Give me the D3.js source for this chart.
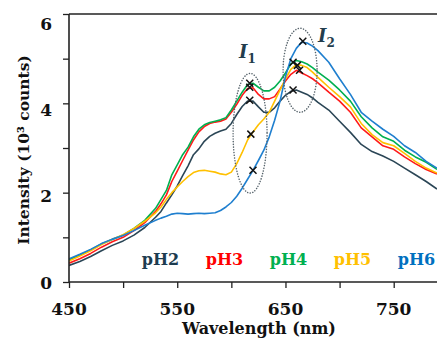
<!DOCTYPE html>
<html><head><meta charset="utf-8">
<script src="https://cdn.jsdelivr.net/npm/d3@7/dist/d3.min.js"></script>
<style>
html,body{margin:0;padding:0;background:#fff;}
svg{display:block;}
text{font-family:"DejaVu Serif",serif;font-weight:bold;}
</style></head>
<body>
<svg id="chart" width="437" height="339"></svg>
<script>
// ---- data ----
const wavelengths = [450,460,470,480,490,500,510,520,530,535,540,545,550,555,560,565,570,575,580,585,590,595,600,605,610,615,620,625,630,635,640,645,650,655,660,665,670,675,680,690,700,710,720,730,740,750,760,770,780,790];
const pH2 = [0.37,0.46,0.57,0.70,0.82,0.92,1.05,1.22,1.45,1.58,1.77,1.95,2.15,2.38,2.60,2.85,2.98,3.15,3.26,3.33,3.38,3.42,3.55,3.75,3.93,4.05,4.05,3.92,3.80,3.80,3.90,4.05,4.18,4.27,4.30,4.25,4.20,4.12,4.02,3.85,3.60,3.35,3.08,2.92,2.82,2.70,2.55,2.40,2.25,2.08];
const pH3 = [0.42,0.52,0.64,0.78,0.90,1.00,1.15,1.33,1.58,1.75,1.95,2.25,2.48,2.72,2.95,3.18,3.36,3.48,3.55,3.58,3.60,3.65,3.80,3.98,4.18,4.33,4.35,4.20,4.10,4.10,4.15,4.32,4.50,4.65,4.74,4.68,4.62,4.55,4.46,4.25,4.05,3.80,3.45,3.25,3.05,2.97,2.80,2.65,2.52,2.42];
const pH4 = [0.50,0.60,0.72,0.85,0.95,1.05,1.20,1.38,1.65,1.85,2.05,2.40,2.62,2.85,3.02,3.25,3.42,3.52,3.57,3.60,3.63,3.68,3.85,4.05,4.25,4.42,4.45,4.36,4.28,4.28,4.36,4.50,4.68,4.88,4.96,4.93,4.88,4.80,4.70,4.52,4.30,4.05,3.70,3.45,3.25,3.15,2.95,2.80,2.68,2.52];
const pH5 = [0.47,0.58,0.70,0.84,0.96,1.06,1.20,1.36,1.55,1.68,1.85,2.00,2.13,2.25,2.36,2.45,2.49,2.50,2.48,2.46,2.42,2.40,2.46,2.65,2.90,3.18,3.36,3.52,3.65,3.80,4.05,4.30,4.55,4.76,4.87,4.85,4.80,4.70,4.58,4.36,4.15,3.92,3.55,3.30,3.12,3.05,2.88,2.70,2.55,2.44];
const pH6 = [0.52,0.62,0.73,0.86,0.96,1.04,1.15,1.27,1.38,1.43,1.47,1.52,1.54,1.53,1.52,1.53,1.54,1.53,1.54,1.55,1.60,1.68,1.78,1.92,2.10,2.30,2.50,2.72,2.95,3.25,3.62,4.05,4.60,5.00,5.23,5.37,5.35,5.28,5.18,4.92,4.55,4.20,3.80,3.60,3.42,3.26,3.05,2.90,2.70,2.55];
const seriesNames = ["pH2","pH3","pH4","pH5","pH6"];
const seriesColors = ["#2b4656","#ff1a1a","#00b050","#ffc000","#1f7fcf"];
const legendColors = ["#1d3c50","#ff0000","#00b050","#ffc000","#0070c0"];
// peak markers (I1, I2) per series
const peak1Wl = [617,617,617,618,620];
const peak1Val = [4.07,4.36,4.45,3.31,2.50];
const peak2Wl = [657,663,657,661,666];
const peak2Val = [4.30,4.74,4.92,4.85,5.39];
// ellipse annotations: [centre wl, centre value, half-width nm, half-height value]
const ellipseCx = [617.3,663.5];
const ellipseCy = [3.33,4.74];
const ellipseRx = [15.7,15.7];
const ellipseRy = [1.34,0.94];
const ellipseLabels = ["1","2"];
const xTicks = [450,500,550,600,650,700,750];
const xLabels = [450,550,650,750];
const yTicks = [0,1,2,3,4,5,6];
const yLabels = [0,2,4,6];

// ---- chart ----
const svg = d3.select("#chart");
const x = d3.scaleLinear().domain([450,790]).range([69,437]);
const y = d3.scaleLinear().domain([0,6]).range([282,14]);
const yLab = d3.scaleLinear().domain([0,6]).range([282.5,23.5]);

svg.append("defs").append("clipPath").attr("id","clip")
  .append("rect").attr("x",69).attr("y",14).attr("width",368).attr("height",268);

const allSeries = [pH2,pH3,pH4,pH5,pH6];
const line = d3.line().x((d,i)=>x(wavelengths[i])).y(d=>y(d));
const g = svg.append("g").attr("clip-path","url(#clip)");
allSeries.forEach((s,k)=>{
  g.append("path").datum(s).attr("d",line)
    .attr("fill","none").attr("stroke",seriesColors[k])
    .attr("stroke-width",1.6).attr("stroke-linejoin","round");
});

// ellipses
ellipseCx.forEach((cx,i)=>{
  svg.append("ellipse")
    .attr("cx",x(cx)).attr("cy",y(ellipseCy[i]))
    .attr("rx",x(cx+ellipseRx[i])-x(cx))
    .attr("ry",y(0)-y(ellipseRy[i]))
    .attr("fill","none").attr("stroke","#56636b").attr("stroke-width",1.5)
    .attr("stroke-dasharray","0.1,2.6").attr("stroke-linecap","round");
});

// markers
function cross(px,py){
  const s=3.5;
  svg.append("path").attr("d",`M${px-s},${py-s}L${px+s},${py+s}M${px-s},${py+s}L${px+s},${py-s}`)
    .attr("stroke","#111").attr("stroke-width",1.5);
}
peak1Wl.forEach((w,i)=>cross(x(w),y(peak1Val[i])));
peak2Wl.forEach((w,i)=>cross(x(w),y(peak2Val[i])));

// I labels
const labPos = [[239,58],[318,42]];
ellipseLabels.forEach((l,i)=>{
  const t = svg.append("text").attr("x",labPos[i][0]).attr("y",labPos[i][1])
    .attr("fill","#233d4d").attr("font-size",18).attr("font-style","italic");
  t.append("tspan").text("I");
  t.append("tspan").attr("dy",5).attr("font-size",12).attr("font-style","normal").text(l);
});

// axes
const xAxis = d3.axisBottom(x).tickValues(xTicks).tickSize(6).tickFormat("");
const gx = svg.append("g").attr("transform","translate(0,282)").call(xAxis);
const yAxis = d3.axisLeft(y).tickValues(yTicks).tickSize(6).tickFormat("");
const gy = svg.append("g").attr("transform","translate(69,0)").call(yAxis);
[gx,gy].forEach(a=>{
  a.select(".domain").attr("stroke","#222").attr("stroke-width",1.6);
  a.selectAll(".tick line").attr("stroke","#222").attr("stroke-width",1.3);
});
gx.select(".domain").attr("d","M69,0H437");
gy.select(".domain").attr("d","M0,14V282");
svg.append("line").attr("x1",69).attr("x2",437).attr("y1",14).attr("y2",14)
  .attr("stroke","#222").attr("stroke-width",1.6);

svg.selectAll(".xl").data(xLabels).enter().append("text")
  .attr("x",d=>x(d)).attr("y",315).attr("text-anchor","middle")
  .attr("font-size",17).attr("fill","#111").text(d=>d);
svg.selectAll(".yl").data(yLabels).enter().append("text")
  .attr("x",52).attr("y",d=>yLab(d)).attr("dy","0.36em").attr("text-anchor","end")
  .attr("font-size",17).attr("fill","#111").text(d=>d);

svg.append("text").attr("x",259).attr("y",334).attr("text-anchor","middle")
  .attr("font-size",16).attr("fill","#111").text("Wavelength  (nm)");
svg.append("text").attr("transform","translate(29,150) rotate(-90)").attr("text-anchor","middle")
  .attr("font-size",15.5).attr("fill","#111").text("Intensity (10³ counts)");

// legend
seriesNames.forEach((n,i)=>{
  svg.append("text").attr("x",160.5+i*64).attr("y",265).attr("text-anchor","middle")
    .attr("font-size",16).attr("fill",legendColors[i]).text(n);
});
</script>
</body></html>
